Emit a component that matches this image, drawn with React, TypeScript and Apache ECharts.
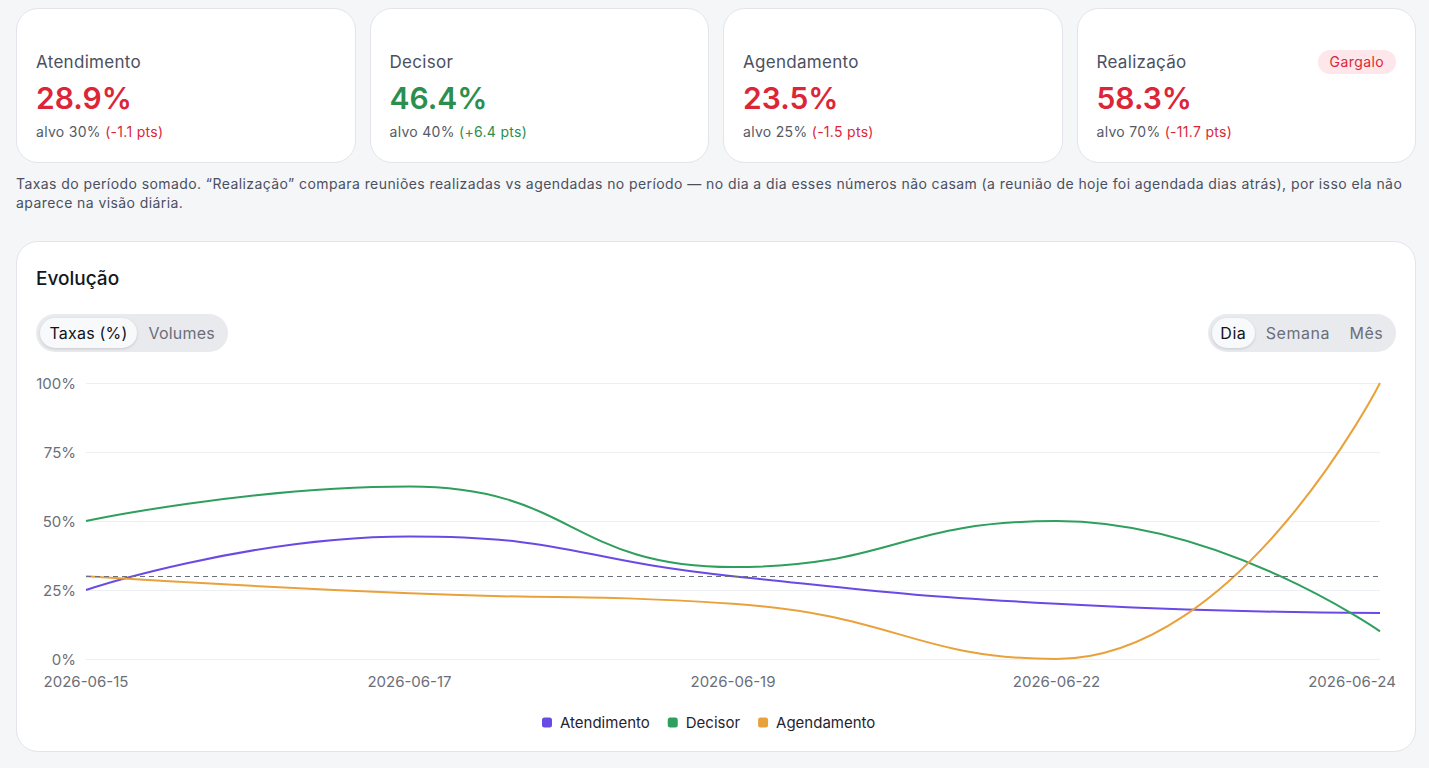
import React, { useEffect, useRef } from "react";
import * as echarts from "echarts";

// KPI cards
const kpiNames = ["Atendimento", "Decisor", "Agendamento", "Realização"];
const kpiValues = [28.9, 46.4, 23.5, 58.3];
const kpiTargets = [30, 40, 25, 70];
const kpiBadges = ["", "", "", "Gargalo"];

// Daily rates (%)
const dates = ["2026-06-15", "2026-06-17", "2026-06-19", "2026-06-22", "2026-06-24"];
const atendimento = [25, 44.4, 30, 20, 16.7];
const decisor = [50, 62.5, 33.3, 50, 10];
const agendamento = [30, 23.8, 20, 0, 100];
const targetAtendimento = 30;
const yTicks = [0, 25, 50, 75, 100];

const FONT = 'Inter, "Noto Sans", "DejaVu Sans", sans-serif';
const RED = "#dc2638";
const GREEN = "#2a8f4f";
const PURPLE = "#6a4ae4";
const LINE_GREEN = "#2e9f5c";
const ORANGE = "#e9a23b";

function fmtDelta(d: number) {
  const s = d >= 0 ? "+" : "-";
  return `(${s}${Math.abs(d).toFixed(1)} pts)`;
}

function KpiCard({ i }: { i: number }) {
  const v = kpiValues[i];
  const t = kpiTargets[i];
  const delta = Math.round((v - t) * 10) / 10;
  const ok = delta >= 0;
  return (
    <div
      style={{
        flex: "1 1 0",
        height: 155,
        boxSizing: "border-box",
        background: "#fff",
        border: "1px solid #e3e5ea",
        borderRadius: 22,
        padding: "41px 19px 0 19px",
        position: "relative",
      }}
    >
      <div style={{ display: "flex", justifyContent: "space-between", alignItems: "center", height: 24 }}>
        <span style={{ fontSize: 17, color: "#4b5060", lineHeight: "24px", letterSpacing: 0.3 }}>{kpiNames[i]}</span>
        {kpiBadges[i] ? (
          <span
            style={{
              fontSize: 14,
              color: RED,
              background: "#fde7ea",
              borderRadius: 12,
              height: 24,
              lineHeight: "24px",
              padding: "0 12px",
              letterSpacing: 0.4,
            }}
          >
            {kpiBadges[i]}
          </span>
        ) : null}
      </div>
      <div
        style={{
          marginTop: 5,
          fontSize: 30,
          lineHeight: "38px",
          fontWeight: 600,
          color: ok ? GREEN : RED,
        }}
      >
        {v.toFixed(1)}%
      </div>
      <div style={{ marginTop: 5, fontSize: 14, lineHeight: "20px", color: "#555a66", letterSpacing: 0.3 }}>
        alvo {t}%{" "}
        <span style={{ color: ok ? GREEN : RED }}>{fmtDelta(delta)}</span>
      </div>
    </div>
  );
}

function Toggle({
  items,
  active,
  side,
  offset,
  spacing,
  pad,
}: {
  items: string[];
  active: number;
  side: "left" | "right";
  offset: number;
  spacing: number;
  pad: number;
}) {
  return (
    <div
      style={{
        position: "absolute",
        [side]: offset,
        top: 72,
        height: 38,
        boxSizing: "border-box",
        background: "#e8eaee",
        borderRadius: 19,
        padding: 4,
        display: "flex",
        gap: 2,
        whiteSpace: "nowrap",
      }}
    >
      {items.map((it, k) => (
        <div
          key={it}
          style={{
            height: 30,
            lineHeight: "30px",
            padding: `0 ${pad}px`,
            borderRadius: 15,
            fontSize: 16,
            letterSpacing: spacing,
            color: k === active ? "#111318" : "#6b6f7a",
            background: k === active ? "#f8f9fb" : "transparent",
            boxShadow: k === active ? "0 1px 3px rgba(0,0,0,0.14)" : "none",
          }}
        >
          {it}
        </div>
      ))}
    </div>
  );
}

function RateChart() {
  const ref = useRef<HTMLDivElement>(null);
  useEffect(() => {
    if (!ref.current) return;
    const chart = echarts.init(ref.current, undefined, { renderer: "svg" });
    const lastIdx = dates.length - 1;
    chart.setOption({
      animation: false,
      textStyle: { fontFamily: FONT },
      grid: { left: 69, right: 35, top: 23, bottom: 91 },
      legend: {
        top: 350,
        left: 520,
        icon: "roundRect",
        itemWidth: 10,
        itemHeight: 10,
        itemGap: 18,
        textStyle: { fontSize: 15, color: "#1f2430", fontFamily: FONT, padding: [0, 0, 0, 3] },
        data: ["Atendimento", "Decisor", "Agendamento"],
      },
      xAxis: {
        type: "category",
        boundaryGap: false,
        data: dates,
        axisLine: { show: false },
        axisTick: { show: false },
        axisLabel: {
          interval: 0,
          margin: 15,
          fontSize: 15,
          color: "#6b6f7a",
          fontFamily: FONT,
          formatter: (v: string, idx: number) => (idx === lastIdx ? `{last|${v}}` : v),
          rich: {
            last: { fontSize: 15, color: "#6b6f7a", fontFamily: FONT, padding: [0, 56, 0, 0] },
          },
        },
      },
      yAxis: {
        type: "value",
        min: yTicks[0],
        max: yTicks[yTicks.length - 1],
        interval: 25,
        axisLabel: { formatter: "{value}%", fontSize: 15, color: "#6b6f7a", margin: 10, fontFamily: FONT },
        splitLine: { lineStyle: { color: "#eeeff2", width: 1 } },
        axisLine: { show: false },
        axisTick: { show: false },
      },
      series: [
        {
          name: "Atendimento",
          type: "line",
          data: atendimento,
          smooth: true,
          showSymbol: false,
          lineStyle: { color: PURPLE, width: 2 },
          itemStyle: { color: PURPLE },
          markLine: {
            silent: true,
            symbol: "none",
            label: { show: false },
            lineStyle: { color: "#6b6f7a", type: [5, 4], width: 1 },
            data: [{ yAxis: targetAtendimento }],
          },
        },
        {
          name: "Decisor",
          type: "line",
          data: decisor,
          smooth: true,
          showSymbol: false,
          lineStyle: { color: LINE_GREEN, width: 2 },
          itemStyle: { color: LINE_GREEN },
        },
        {
          name: "Agendamento",
          type: "line",
          data: agendamento,
          smooth: true,
          showSymbol: false,
          lineStyle: { color: ORANGE, width: 2 },
          itemStyle: { color: ORANGE },
        },
      ],
    });
    return () => chart.dispose();
  }, []);
  return <div ref={ref} style={{ position: "absolute", left: 0, top: 118, width: 1398, height: 390 }} />;
}

export default function App() {
  useEffect(() => {
    document.body.style.margin = "0";
  }, []);
  return (
    <div
      style={{
        position: "relative",
        width: 1429,
        height: 768,
        background: "#f5f6f8",
        fontFamily: FONT,
        overflow: "hidden",
      }}
    >
      <div style={{ position: "absolute", left: 16, top: 8, width: 1400, display: "flex", gap: 14 }}>
        {kpiNames.map((_, i) => (
          <KpiCard key={i} i={i} />
        ))}
      </div>
      <div
        style={{
          position: "absolute",
          left: 16,
          top: 174,
          width: 1400,
          fontSize: 14,
          lineHeight: "19px",
          color: "#4b5060",
          letterSpacing: 0.42,
        }}
      >
        Taxas do período somado. “Realização” compara reuniões realizadas vs agendadas no período — no dia a dia esses
        números não casam (a reunião de hoje foi agendada dias atrás), por isso ela não
        <br />
        aparece na visão diária.
      </div>
      <div
        style={{
          position: "absolute",
          left: 16,
          top: 241,
          width: 1400,
          height: 511,
          boxSizing: "border-box",
          background: "#fff",
          border: "1px solid #e3e5ea",
          borderRadius: 22,
        }}
      >
        <div
          style={{
            position: "absolute",
            left: 19,
            top: 24,
            fontSize: 19,
            lineHeight: "26px",
            fontWeight: 500,
            color: "#14161c",
          }}
        >
          Evolução
        </div>
        <Toggle items={["Taxas (%)", "Volumes"]} active={0} side="left" offset={19} spacing={0.2} pad={9.5} />
        <Toggle items={["Dia", "Semana", "Mês"]} active={0} side="right" offset={19} spacing={0.5} pad={8.8} />
        <RateChart />
      </div>
    </div>
  );
}
